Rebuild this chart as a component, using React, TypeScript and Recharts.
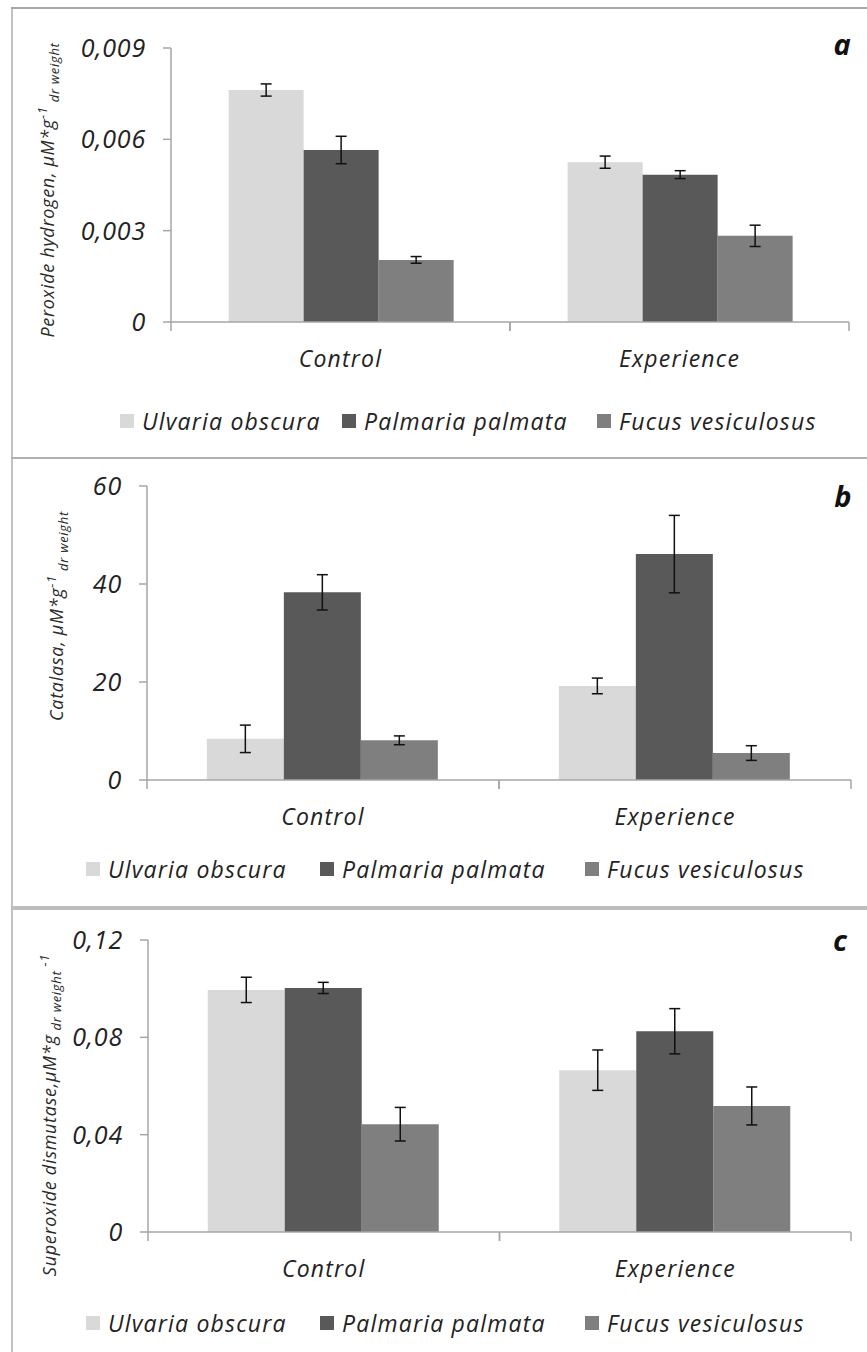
import React from 'react';
import { BarChart, Bar, XAxis, YAxis, ErrorBar, Legend } from 'recharts';

const categories = ['Control', 'Experience'];
const seriesNames = ['Ulvaria obscura', 'Palmaria palmata', 'Fucus vesiculosus'];
const seriesKeys = ['ulvaria', 'palmaria', 'fucus'];
const seriesColors = ['#d9d9d9', '#595959', '#7f7f7f'];

// panel a - peroxide hydrogen
const h2o2Ulvaria = [0.00762, 0.00525];
const h2o2Palmaria = [0.00565, 0.00484];
const h2o2Fucus = [0.00204, 0.00283];
const h2o2UlvariaErr = [0.0002, 0.0002];
const h2o2PalmariaErr = [0.00045, 0.00013];
const h2o2FucusErr = [0.00011, 0.00035];
const h2o2Ticks = [0, 0.003, 0.006, 0.009];

// panel b - catalasa
const catUlvaria = [8.4, 19.2];
const catPalmaria = [38.3, 46.1];
const catFucus = [8.1, 5.5];
const catUlvariaErr = [2.8, 1.6];
const catPalmariaErr = [3.6, 7.9];
const catFucusErr = [0.9, 1.5];
const catTicks = [0, 20, 40, 60];

// panel c - superoxide dismutase
const sodUlvaria = [0.0995, 0.0665];
const sodPalmaria = [0.1003, 0.0825];
const sodFucus = [0.0443, 0.0518];
const sodUlvariaErr = [0.0052, 0.0083];
const sodPalmariaErr = [0.0023, 0.0093];
const sodFucusErr = [0.0069, 0.0078];
const sodTicks = [0, 0.04, 0.08, 0.12];

const makeRows = (values: number[][], errs: number[][]) =>
  categories.map((category, i) => {
    const row: any = { category };
    seriesKeys.forEach((k, s) => {
      row[k] = values[s][i];
      row[k + 'Err'] = errs[s][i];
    });
    return row;
  });

const AXIS = '#a6a6a6';
const TEXT = '#222';
const FONT = "'Open Sans', sans-serif";
const W = 867;
const Y_W = 70;
const X_H = 40;

const comma = (digits: number) => (v: number) => (v === 0 ? '0' : v.toFixed(digits).replace('.', ','));

const panels = [
  {
    id: 'a',
    top: 0,
    height: 458,
    margin: { top: 48, right: 18, left: 101, bottom: 96 },
    rows: makeRows([h2o2Ulvaria, h2o2Palmaria, h2o2Fucus], [h2o2UlvariaErr, h2o2PalmariaErr, h2o2FucusErr]),
    ticks: h2o2Ticks,
    fmt: comma(3),
    title: { x: 54, y: 190, main: 'Peroxide hydrogen, µM*g', order: 'supsub' },
    legendTop: 421,
    legendLefts: [120, 342, 597],
    letter: { x: 842, y: 44 },
  },
  {
    id: 'b',
    top: 459,
    height: 449,
    margin: { top: 27, right: 16, left: 77, bottom: 88 },
    rows: makeRows([catUlvaria, catPalmaria, catFucus], [catUlvariaErr, catPalmariaErr, catFucusErr]),
    ticks: catTicks,
    fmt: (v: number) => String(v),
    title: { x: 63, y: 157, main: 'Catalasa, µM*g', order: 'supsub' },
    legendTop: 410,
    legendLefts: [86, 320, 585],
    letter: { x: 843, y: 496 },
  },
  {
    id: 'c',
    top: 910,
    height: 442,
    margin: { top: 30, right: 16, left: 78, bottom: 80 },
    rows: makeRows([sodUlvaria, sodPalmaria, sodFucus], [sodUlvariaErr, sodPalmariaErr, sodFucusErr]),
    ticks: sodTicks,
    fmt: comma(2),
    title: { x: 56, y: 205, main: 'Superoxide dismutase,µM*g', order: 'subsup' },
    legendTop: 413,
    legendLefts: [86, 320, 585],
    letter: { x: 840, y: 940 },
  },
];

const CategoryTick = (props: any) => {
  const { x, y, payload, half } = props;
  const h = typeof payload?.offset === 'number' && payload.offset > 0 ? payload.offset : half;
  return (
    <g>
      <line x1={x - h} y1={y} x2={x - h} y2={y + 9} stroke={AXIS} strokeWidth={1.5} />
      <line x1={x + h} y1={y} x2={x + h} y2={y + 9} stroke={AXIS} strokeWidth={1.5} />
      <text
        x={x}
        y={y + 45}
        textAnchor="middle"
        fontFamily={FONT}
        fontStyle="italic"
        fontSize={23}
        letterSpacing={1.2}
        fill={TEXT}
      >
        {payload.value}
      </text>
    </g>
  );
};

const AxisTitle = ({ t }: any) => {
  const small = 13;
  return (
    <text
      transform={`rotate(-90, ${t.x}, ${t.y})`}
      x={t.x}
      y={t.y}
      textAnchor="middle"
      fontFamily={FONT}
      fontStyle="italic"
      fontSize={18}
      letterSpacing={0.7}
      fill="#2a2a2a"
    >
      <tspan>{t.main}</tspan>
      {t.order === 'supsub' ? (
        <>
          <tspan fontSize={small} dy={-7}>-1</tspan>
          <tspan fontSize={small} dy={12}> dr weight</tspan>
        </>
      ) : (
        <>
          <tspan fontSize={small} dy={5}> dr weight</tspan>
          <tspan fontSize={small} dy={-12}> -1</tspan>
        </>
      )}
    </text>
  );
};

const LegendRow = ({ lefts }: { lefts: number[] }) => (
  <div style={{ position: 'relative', width: W, height: 30 }}>
    {seriesNames.map((name, i) => (
      <div
        key={name}
        style={{
          position: 'absolute',
          left: lefts[i],
          top: 0,
          height: 30,
          display: 'flex',
          alignItems: 'center',
          whiteSpace: 'nowrap',
        }}
      >
        <span style={{ display: 'inline-block', width: 14, height: 14, background: seriesColors[i] }} />
        <span
          style={{
            marginLeft: 8,
            fontFamily: FONT,
            fontStyle: 'italic',
            fontSize: 23,
            letterSpacing: 1.2,
            color: TEXT,
            lineHeight: '30px',
          }}
        >
          {name}
        </span>
      </div>
    ))}
  </div>
);

const Panel = ({ p }: any) => {
  const plotW = W - p.margin.left - Y_W - p.margin.right;
  const half = plotW / categories.length / 2;
  const max = p.ticks[p.ticks.length - 1];
  return (
    <div style={{ position: 'absolute', left: 0, top: p.top, width: W, height: p.height }}>
      <BarChart width={W} height={p.height} data={p.rows} margin={p.margin} barGap={0} barCategoryGap="17%">
        <XAxis
          dataKey="category"
          height={X_H}
          interval={0}
          tickLine={false}
          tickSize={0}
          tickMargin={0}
          axisLine={{ stroke: AXIS, strokeWidth: 1.5 }}
          tick={<CategoryTick half={half} />}
        />
        <YAxis
          width={Y_W}
          domain={[0, max]}
          ticks={p.ticks}
          interval={0}
          tickFormatter={p.fmt}
          tickSize={8}
          tickMargin={17}
          axisLine={{ stroke: AXIS, strokeWidth: 1.5 }}
          tickLine={{ stroke: AXIS, strokeWidth: 1.5 }}
          tick={{ fontFamily: FONT, fontStyle: 'italic', fontSize: 25, fill: TEXT, letterSpacing: 0.8 }}
          label={<AxisTitle t={p.title} />}
        />
        {seriesKeys.map((k, i) => (
          <Bar key={k} dataKey={k} name={seriesNames[i]} fill={seriesColors[i]} isAnimationActive={false}>
            <ErrorBar dataKey={k + 'Err'} width={5.5} stroke="#111" strokeWidth={1.5} direction="y" />
          </Bar>
        ))}
        <Legend
          verticalAlign="middle"
          align="center"
          layout="horizontal"
          wrapperStyle={{ left: 0, top: p.legendTop - 15, width: W, height: 30 }}
          content={() => <LegendRow lefts={p.legendLefts} />}
        />
      </BarChart>
    </div>
  );
};

export default function App() {
  return (
    <div style={{ position: 'absolute', left: 0, top: 0, width: W, height: 1352, background: '#fff', overflow: 'hidden' }}>
      {panels.map((p) => (
        <Panel key={p.id} p={p} />
      ))}
      {panels.map((p) => (
        <div
          key={'l' + p.id}
          style={{
            position: 'absolute',
            left: p.letter.x - 20,
            top: p.letter.y - 20,
            width: 40,
            height: 40,
            lineHeight: '40px',
            textAlign: 'center',
            fontFamily: FONT,
            fontStyle: 'italic',
            fontWeight: 700,
            fontSize: 29,
            color: '#111',
          }}
        >
          {p.id}
        </div>
      ))}
      <div style={{ position: 'absolute', left: 11, top: 7, width: 2, height: 1345, background: '#c2c2c2' }} />
      <div style={{ position: 'absolute', left: 11, top: 7, width: 856, height: 2, background: '#a8a8a8' }} />
      <div style={{ position: 'absolute', left: 11, top: 457, width: 856, height: 2, background: '#b0b0b0' }} />
      <div style={{ position: 'absolute', left: 11, top: 906, width: 856, height: 4, background: '#bdbdbd' }} />
    </div>
  );
}
